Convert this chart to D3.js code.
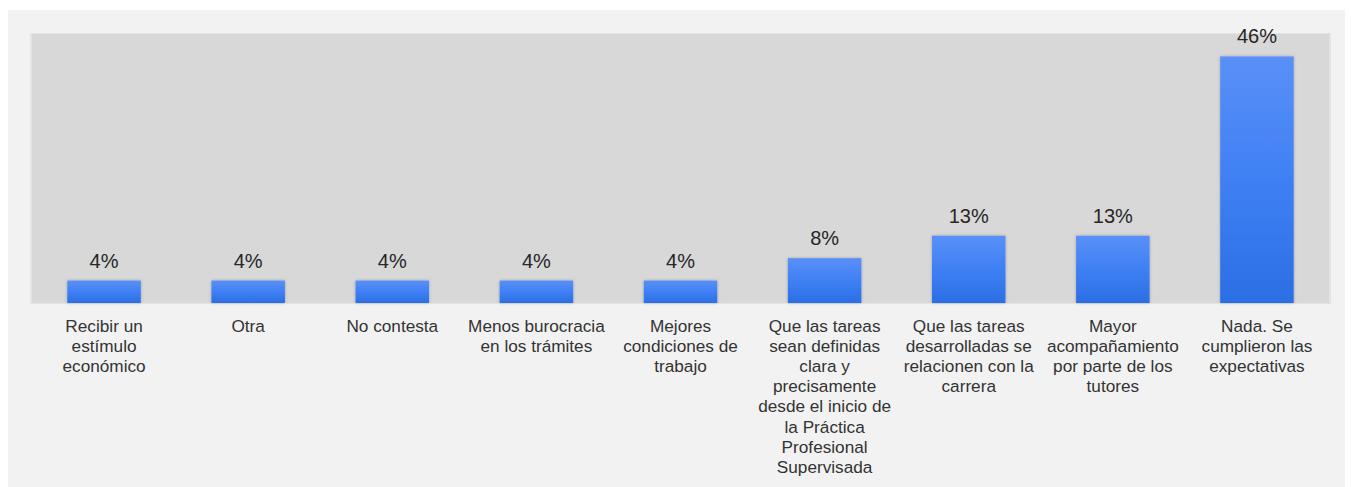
<!DOCTYPE html>
<html>
<head>
<meta charset="utf-8">
<script src="https://cdn.jsdelivr.net/npm/d3@7"></script>
<style>
  html, body { margin: 0; padding: 0; background: #ffffff; }
  svg { display: block; }
</style>
</head>
<body>
<svg id="chart" width="1351" height="487"></svg>
<script>
// ---- data ----
const categories = [
  "Recibir un|estímulo|económico",
  "Otra",
  "No contesta",
  "Menos burocracia|en los trámites",
  "Mejores|condiciones de|trabajo",
  "Que las tareas|sean definidas|clara y|precisamente|desde el inicio de|la Práctica|Profesional|Supervisada",
  "Que las tareas|desarrolladas se|relacionen con la|carrera",
  "Mayor|acompañamiento|por parte de los|tutores",
  "Nada. Se|cumplieron las|expectativas"
];
const values = [4.17, 4.17, 4.17, 4.17, 4.17, 8.33, 12.5, 12.5, 45.83];
const valueLabels = ["4%", "4%", "4%", "4%", "4%", "8%", "13%", "13%", "46%"];
const yDomain = [0, 50];

// ---- layout ----
const svg = d3.select("#chart");
const plot = { left: 32, right: 1329, top: 34, bottom: 303 };

// outer panel
svg.append("rect").attr("x", 8).attr("y", 10).attr("width", 1337).attr("height", 477)
  .attr("fill", "#f2f2f2");

const defs = svg.append("defs");
const grad = defs.append("linearGradient").attr("id", "barGrad")
  .attr("x1", 0).attr("y1", 0).attr("x2", 0).attr("y2", 1);
grad.append("stop").attr("offset", "0%").attr("stop-color", "#5a90f7");
grad.append("stop").attr("offset", "50%").attr("stop-color", "#3f80f4");
grad.append("stop").attr("offset", "100%").attr("stop-color", "#2c6ee4");
const filt = defs.append("filter").attr("id", "shadow")
  .attr("x", "-20%").attr("y", "-20%").attr("width", "140%").attr("height", "140%");
filt.append("feDropShadow").attr("dx", 0).attr("dy", 0).attr("stdDeviation", 1.5)
  .attr("flood-color", "#000").attr("flood-opacity", 0.25);

// plot area
svg.append("rect").attr("x", plot.left - 2).attr("y", plot.top - 1)
  .attr("width", plot.right - plot.left + 4).attr("height", plot.bottom - plot.top + 2)
  .attr("fill", "#e4e4e4");
svg.append("rect").attr("x", plot.left).attr("y", plot.top)
  .attr("width", plot.right - plot.left).attr("height", plot.bottom - plot.top)
  .attr("fill", "#d8d8d8");

const x = d3.scaleBand().domain(d3.range(categories.length))
  .range([plot.left, plot.right]).paddingInner(0.49).paddingOuter(0.245);
const y = d3.scaleLinear().domain(yDomain).range([plot.bottom, plot.top]);

// bars
svg.append("g").selectAll("rect").data(values).join("rect")
  .attr("x", (d, i) => x(i))
  .attr("y", d => y(d))
  .attr("width", x.bandwidth())
  .attr("height", d => y(0) - y(d))
  .attr("fill", "url(#barGrad)")
  .attr("filter", "url(#shadow)");

// value labels
svg.append("g").selectAll("text").data(values).join("text")
  .attr("x", (d, i) => x(i) + x.bandwidth() / 2)
  .attr("y", d => y(d) - 13)
  .attr("text-anchor", "middle")
  .attr("font-family", "'Liberation Sans', Arial, sans-serif")
  .attr("font-size", 20)
  .attr("fill", "#262626")
  .text((d, i) => valueLabels[i]);

// category labels (via axis)
const axis = d3.axisBottom(x).tickSize(0).tickPadding(0).tickFormat(() => "");
const ax = svg.append("g").attr("transform", `translate(0,${plot.bottom})`).call(axis);
ax.select(".domain").remove();
ax.selectAll(".tick").each(function(d) {
  const lines = categories[d].split("|");
  const t = d3.select(this).append("text")
    .attr("text-anchor", "middle")
    .attr("font-family", "'Liberation Sans', Arial, sans-serif")
    .attr("font-size", 17.2)
    .attr("fill", "#333333");
  lines.forEach((ln, k) => {
    t.append("tspan").attr("x", 0).attr("y", 29 + k * 20.1).text(ln);
  });
});
</script>
</body>
</html>
